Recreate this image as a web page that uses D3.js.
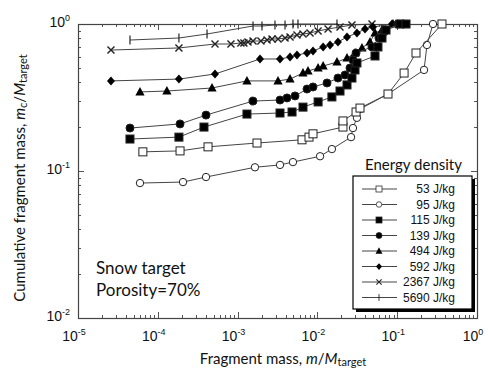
<!DOCTYPE html>
<html>
<head>
<meta charset="utf-8">
<script src="https://cdn.jsdelivr.net/npm/d3@7"></script>
<style>
  body { margin: 0; background: #fff; }
  svg { display: block; }
</style>
</head>
<body>
<svg width="488" height="376"></svg>
<script>
// data (x = m/Mtarget, y = mc/Mtarget)
var seriesNames = ['53 J/kg', '95 J/kg', '115 J/kg', '139 J/kg', '494 J/kg', '592 J/kg', '2367 J/kg', '5690 J/kg'];
var markerTypes = ['squareOpen', 'circleOpen', 'square', 'circle', 'triangle', 'diamond', 'times', 'plus'];

var s53x = [6.5e-5, 1.9e-4, 4.26e-4, 1.75e-3, 6.41e-3, 7.85e-3, 8.81e-3, 2.09e-2, 2.09e-2, 3.05e-2, 3.42e-2, 7.67e-2, 0.122, 0.172, 0.364];
var s53y = [0.135, 0.137, 0.146, 0.155, 0.163, 0.170, 0.179, 0.199, 0.219, 0.252, 0.268, 0.334, 0.464, 0.635, 1.0];

var s95x = [5.98e-5, 2.07e-4, 4.02e-4, 1.65e-3, 3.4e-3, 4.94e-3, 1.08e-2, 1.52e-2, 2.64e-2, 2.79e-2, 3.13e-2, 3.42e-2, 7.67e-2, 0.217, 0.236, 0.281];
var s95y = [0.0828, 0.0841, 0.091, 0.106, 0.110, 0.115, 0.126, 0.141, 0.170, 0.196, 0.230, 0.264, 0.334, 0.487, 0.720, 1.0];

var s115x = [4.48e-5, 1.84e-4, 3.79e-4, 1.31e-3, 3.4e-3, 4.81e-3, 6.6e-3, 1.02e-2, 1.52e-2, 1.92e-2, 2.35e-2, 2.71e-2, 2.96e-2, 3.13e-2, 5.27e-2, 5.74e-2, 6.45e-2, 7.24e-2, 0.108, 0.129];
var s115y = [0.165, 0.170, 0.199, 0.244, 0.248, 0.252, 0.272, 0.295, 0.319, 0.350, 0.385, 0.429, 0.487, 0.543, 0.606, 0.698, 0.803, 0.910, 1.0, 1.0];

var s139x = [4.48e-5, 1.9e-4, 4.02e-4, 1.56e-3, 3.4e-3, 4.16e-3, 5.24e-3, 7.41e-3, 8.81e-3, 1.32e-2, 1.81e-2, 2.22e-2, 2.56e-2, 2.79e-2, 3.05e-2, 4.83e-2, 5.91e-2, 6.83e-2, 0.102];
var s139y = [0.196, 0.209, 0.240, 0.299, 0.304, 0.314, 0.324, 0.361, 0.373, 0.397, 0.429, 0.450, 0.502, 0.569, 0.635, 0.698, 0.803, 0.882, 1.0];

var s494x = [5.98e-5, 1.3e-4, 4.78e-4, 1.31e-3, 3.21e-3, 4.54e-3, 6.6e-3, 7.63e-3, 1.02e-2, 1.18e-2, 1.76e-2, 2.35e-2, 2.96e-2, 3.62e-2, 4.56e-2, 5.27e-2, 6.45e-2, 8.86e-2];
var s494y = [0.345, 0.350, 0.367, 0.410, 0.410, 0.422, 0.464, 0.479, 0.502, 0.518, 0.551, 0.587, 0.635, 0.687, 0.754, 0.869, 0.910, 1.0];

var s592x = [2.59e-5, 1.84e-4, 5.21e-4, 1.91e-3, 3.4e-3, 4.54e-3, 5.55e-3, 7.41e-3, 8.81e-3, 1.18e-2, 1.44e-2, 1.81e-2, 2.35e-2, 3.13e-2, 3.95e-2, 4.97e-2, 8.61e-2, 0.108];
var s592y = [0.410, 0.422, 0.457, 0.578, 0.578, 0.596, 0.615, 0.635, 0.655, 0.698, 0.720, 0.754, 0.816, 0.869, 0.925, 0.954, 1.0, 1.0];

var s2367x = [2.59e-5, 1.84e-4, 5.21e-4, 8.26e-4, 1.1e-3, 1.2e-3, 1.35e-3, 1.56e-3, 1.96e-3, 2.34e-3, 2.7e-3, 3.21e-3, 3.93e-3, 4.54e-3, 5.55e-3, 6.6e-3, 8.08e-3, 1.02e-2, 1.36e-2, 1.92e-2, 2.71e-2, 4.83e-2];
var s2367y = [0.665, 0.687, 0.731, 0.731, 0.743, 0.743, 0.754, 0.766, 0.766, 0.778, 0.791, 0.791, 0.803, 0.816, 0.842, 0.855, 0.869, 0.896, 0.925, 0.954, 0.984, 1.0];

var s5690x = [4.48e-5, 1.84e-4, 4.14e-4, 1.56e-3, 2.02e-3, 2.94e-3, 3.93e-3, 4.94e-3, 5.71e-3, 1.76e-2];
var s5690y = [0.778, 0.803, 0.855, 0.969, 0.969, 0.984, 0.984, 1.0, 1.0, 1.0];

var xTickExps = [-5, -4, -3, -2, -1, 0];
var yTickExps = [-2, -1, 0];

var allX = [s53x, s95x, s115x, s139x, s494x, s592x, s2367x, s5690x];
var allY = [s53y, s95y, s115y, s139y, s494y, s592y, s2367y, s5690y];

var svg = d3.select("svg");
var plotLeft = 78, plotRight = 477, plotTop = 24, plotBottom = 318;

var x = d3.scaleLog().domain([1e-5, 1]).range([plotLeft, plotRight]);
var y = d3.scaleLog().domain([1e-2, 1]).range([plotBottom, plotTop]);

var lineCol = '#444';
var sansFont = 'Liberation Sans, Arial, sans-serif';
var humFont = 'Lato, sans-serif';

// ticks on all four sides, pointing inward
var tickG = svg.append("g").attr("stroke", "#555").attr("stroke-width", 1);
function minorVals(lo, hi) {
    var out = [];
    for (var e = lo; e < hi; e++) {
        for (var k = 2; k <= 9; k++) out.push(k * Math.pow(10, e));
    }
    return out;
}
var xMajor = xTickExps.map(function(e) { return Math.pow(10, e); });
var yMajor = yTickExps.map(function(e) { return Math.pow(10, e); });
var xMinor = minorVals(-5, 0), yMinor = minorVals(-2, 0);

[[xMajor, 6], [xMinor, 3]].forEach(function(p) {
    p[0].forEach(function(v) {
        var px = Math.round(x(v)) + 0.5;
        tickG.append("line").attr("x1", px).attr("x2", px).attr("y1", plotBottom).attr("y2", plotBottom - p[1]);
        tickG.append("line").attr("x1", px).attr("x2", px).attr("y1", plotTop).attr("y2", plotTop + p[1]);
    });
});
[[yMajor, 6], [yMinor, 3]].forEach(function(p) {
    p[0].forEach(function(v) {
        var py = Math.round(y(v)) + 0.5;
        tickG.append("line").attr("y1", py).attr("y2", py).attr("x1", plotLeft).attr("x2", plotLeft + p[1]);
        tickG.append("line").attr("y1", py).attr("y2", py).attr("x1", plotRight).attr("x2", plotRight - p[1]);
    });
});

svg.append("rect")
    .attr("x", plotLeft + 0.5).attr("y", plotTop + 0.5)
    .attr("width", plotRight - plotLeft).attr("height", plotBottom - plotTop)
    .attr("fill", "none").attr("stroke", "#444").attr("stroke-width", 1.2);

// tick labels
xTickExps.forEach(function(e) {
    var t = svg.append("text")
        .attr("x", x(Math.pow(10, e)) - 4).attr("y", 341)
        .attr("text-anchor", "middle")
        .attr("font-family", sansFont).attr("font-size", 14).attr("fill", "#111");
    t.append("tspan").text("10");
    t.append("tspan").attr("dy", -6).attr("font-size", 9).text(e);
});
yTickExps.forEach(function(e) {
    var t = svg.append("text")
        .attr("x", 70).attr("y", y(Math.pow(10, e)) + 3)
        .attr("text-anchor", "end")
        .attr("font-family", sansFont).attr("font-size", 14).attr("fill", "#111");
    t.append("tspan").text("10");
    t.append("tspan").attr("dy", -6).attr("font-size", 9).text(e);
});

// axis titles
var xt = svg.append("text")
    .attr("x", 283).attr("y", 364)
    .attr("text-anchor", "middle")
    .attr("font-family", humFont).attr("font-size", 15).attr("fill", "#111");
xt.append("tspan").text("Fragment mass, ");
xt.append("tspan").attr("font-style", "italic").text("m");
xt.append("tspan").text("/");
xt.append("tspan").attr("font-style", "italic").text("M");
xt.append("tspan").attr("font-size", 11).attr("dy", 2).text("target");

var yt = svg.append("text")
    .attr("transform", "translate(25," + 178 + ") rotate(-90)")
    .attr("text-anchor", "middle")
    .attr("font-family", humFont).attr("font-size", 15).attr("fill", "#111");
yt.append("tspan").text("Cumulative fragment mass, ");
yt.append("tspan").attr("font-style", "italic").text("m");
yt.append("tspan").attr("font-size", 11).attr("dy", 2).text("c");
yt.append("tspan").attr("dy", -2).text("/");
yt.append("tspan").attr("font-style", "italic").text("M");
yt.append("tspan").attr("font-size", 11).attr("dy", 2).text("target");

// marker drawing
function drawMarker(g, type, cx, cy) {
    if (type == 'squareOpen' || type == 'square') {
        g.append("rect").attr("x", cx - 4).attr("y", cy - 4).attr("width", 8).attr("height", 8)
            .attr("fill", type == 'square' ? '#000' : '#fff').attr("stroke", '#222').attr("stroke-width", 1);
    } else if (type == 'circleOpen' || type == 'circle') {
        g.append("circle").attr("cx", cx).attr("cy", cy).attr("r", type == 'circle' ? 4 : 3.7)
            .attr("fill", type == 'circle' ? '#000' : '#fff').attr("stroke", '#222').attr("stroke-width", 1);
    } else if (type == 'triangle') {
        g.append("path").attr("d", "M" + cx + "," + (cy - 5) + "L" + (cx + 4.6) + "," + (cy + 3.5) + "L" + (cx - 4.6) + "," + (cy + 3.5) + "Z")
            .attr("fill", "#000");
    } else if (type == 'diamond') {
        g.append("path").attr("d", "M" + cx + "," + (cy - 4.5) + "L" + (cx + 4) + "," + cy + "L" + cx + "," + (cy + 4.5) + "L" + (cx - 4) + "," + cy + "Z")
            .attr("fill", "#000");
    } else if (type == 'times') {
        g.append("path").attr("d", "M" + (cx - 3.5) + "," + (cy - 3.5) + "L" + (cx + 3.5) + "," + (cy + 3.5) + "M" + (cx - 3.5) + "," + (cy + 3.5) + "L" + (cx + 3.5) + "," + (cy - 3.5))
            .attr("stroke", "#222").attr("stroke-width", 1.4).attr("fill", "none");
    } else if (type == 'plus') {
        g.append("path").attr("d", "M" + cx + "," + (cy - 4.5) + "L" + cx + "," + (cy + 4.5))
            .attr("stroke", "#222").attr("stroke-width", 1.2).attr("fill", "none");
    }
}

var line = d3.line()
    .x(function(d) { return x(d[0]); })
    .y(function(d) { return y(d[1]); });

// draw from highest energy to lowest so open markers sit on top at the right
for (var i = seriesNames.length - 1; i >= 0; i--) {
    var pts = allX[i].map(function(v, j) { return [v, allY[i][j]]; });
    var g = svg.append("g").attr("class", "series");
    g.append("path").datum(pts)
        .attr("d", line)
        .attr("fill", "none").attr("stroke", lineCol).attr("stroke-width", 1);
    pts.forEach(function(p) { drawMarker(g, markerTypes[i], x(p[0]), y(p[1])); });
}

// annotation
svg.append("text").attr("x", 96).attr("y", 274)
    .attr("font-family", humFont).attr("font-size", 17).attr("fill", "#111")
    .text("Snow target");
svg.append("text").attr("x", 96).attr("y", 296)
    .attr("font-family", humFont).attr("font-size", 17).attr("fill", "#111")
    .text("Porosity=70%");

// legend
var legX = 353, legY = 176, legW = 119, legH = 133;
svg.append("text").attr("x", legX + legW / 2 + 1).attr("y", 170)
    .attr("text-anchor", "middle")
    .attr("font-family", humFont).attr("font-size", 15).attr("fill", "#111")
    .text("Energy density");
svg.append("rect").attr("x", legX + 3).attr("y", legY + 3).attr("width", legW).attr("height", legH).attr("fill", "#000");
svg.append("rect").attr("x", legX).attr("y", legY).attr("width", legW).attr("height", legH)
    .attr("fill", "#fff").attr("stroke", "#000").attr("stroke-width", 1.2);

var leg = svg.append("g");
seriesNames.forEach(function(name, i) {
    var ly = 189 + i * 15.5;
    leg.append("line").attr("x1", 362).attr("x2", 397).attr("y1", ly).attr("y2", ly)
        .attr("stroke", lineCol).attr("stroke-width", 1);
    var mg = leg.append("g").attr("transform", "translate(" + 379 + "," + ly + ") scale(0.75) translate(-379,-" + ly + ")");
    drawMarker(mg, markerTypes[i], 379, ly);
    leg.append("text").attr("x", 455).attr("y", ly + 4)
        .attr("text-anchor", "end")
        .attr("font-family", sansFont).attr("font-size", 12).attr("fill", "#111")
        .text(name);
});
</script>
</body>
</html>
